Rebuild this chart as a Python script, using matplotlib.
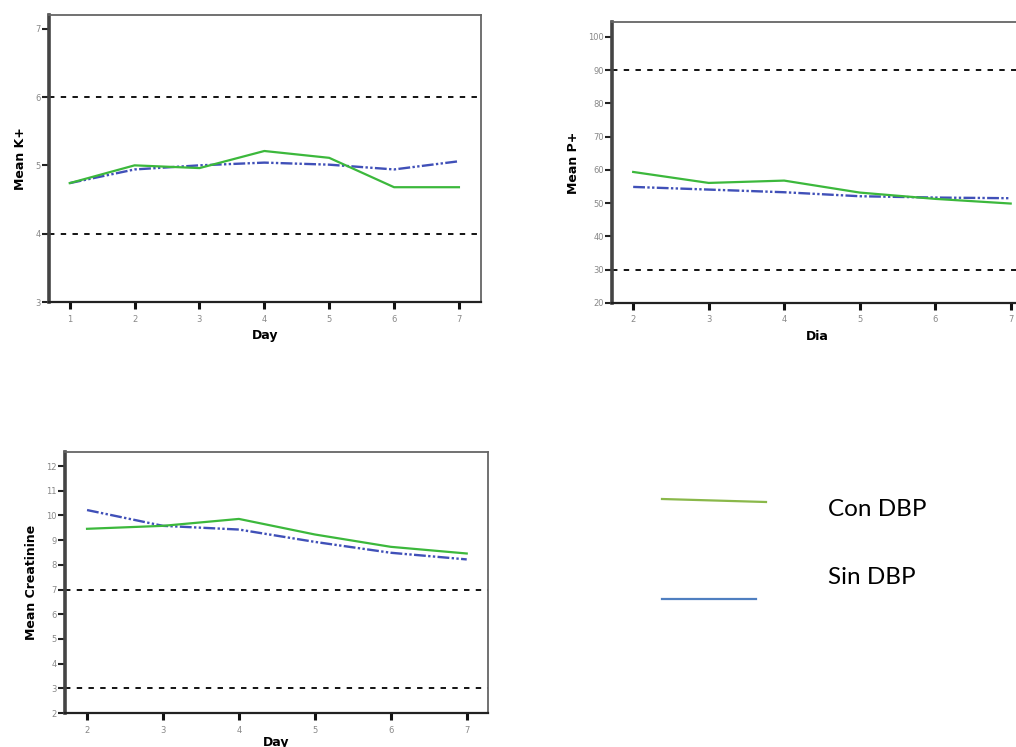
import matplotlib
matplotlib.use("Agg")
import matplotlib.pyplot as plt
from matplotlib.lines import Line2D

# data
days_k = [1, 2, 3, 4, 5, 6, 7]
k_con = [4.74, 5.00, 4.96, 5.21, 5.11, 4.68, 4.68]
k_sin = [4.74, 4.94, 5.00, 5.04, 5.01, 4.94, 5.06]
k_limits = [4, 6]

days_p = [2, 3, 4, 5, 6, 7]
p_con = [59.4, 56.1, 56.8, 53.2, 51.3, 49.9]
p_sin = [54.9, 54.1, 53.3, 52.1, 51.7, 51.5]
p_limits = [30, 90]

days_c = [2, 3, 4, 5, 6, 7]
c_con = [9.46, 9.58, 9.86, 9.23, 8.73, 8.46]
c_sin = [10.22, 9.58, 9.43, 8.93, 8.49, 8.22]
c_limits = [3, 7]

legend_labels = ["Con DBP", "Sin DBP"]

GREEN = "#3cb83c"
BLUE = "#4050b8"
BLUE_LS = (0, (5, 1, 1, 1, 1, 1))

fig = plt.figure(figsize=(10.16, 7.47), dpi=100)


def style_axes(ax, xlabel, ylabel, xticks, yticks, xpad=4):
    ax.set_xticks(xticks)
    ax.set_yticks(yticks)
    ax.tick_params(axis="y", direction="out", length=5, width=1.5, color="#222222",
                   labelsize=6, labelcolor="#888888", pad=1)
    ax.tick_params(axis="x", direction="out", length=5, width=2.2, color="#111111",
                   labelsize=6, labelcolor="#888888", pad=4)
    ax.spines["left"].set_linewidth(2.6)
    ax.spines["left"].set_color("#444444")
    ax.spines["bottom"].set_linewidth(1.6)
    ax.spines["bottom"].set_color("#222222")
    for s in ("top", "right"):
        ax.spines[s].set_linewidth(1.3)
        ax.spines[s].set_color("#666666")
    ax.set_xlabel(xlabel, fontsize=9, fontweight="bold", labelpad=xpad)
    ax.set_ylabel(ylabel, fontsize=9, fontweight="bold", labelpad=6)


def draw(ax, days, con, sin, limits):
    for v in limits:
        ax.axhline(v, color="black", lw=1.3, ls=(0, (3, 3.5)), zorder=1)
    ax.plot(days, sin, color=BLUE, lw=1.7, ls=BLUE_LS, zorder=2)
    ax.plot(days, con, color=GREEN, lw=1.6, zorder=3)


# Mean K+
ax1 = fig.add_axes([0.0482, 0.5957, 0.4252, 0.3842])
draw(ax1, days_k, k_con, k_sin, k_limits)
ax1.set_xlim(0.68, 7.34)
ax1.set_ylim(3, 7.2)
style_axes(ax1, "Day", "Mean K+", days_k, [3, 4, 5, 6, 7])

# Mean P+
ax2 = fig.add_axes([0.6024, 0.5944, 0.405, 0.3762])
draw(ax2, days_p, p_con, p_sin, p_limits)
ax2.set_xlim(1.72, 7.17)
ax2.set_ylim(20, 104.5)
style_axes(ax2, "Dia", "Mean P+", days_p, [20, 30, 40, 50, 60, 70, 80, 90, 100])

# Mean Creatinine
ax3 = fig.add_axes([0.064, 0.0455, 0.4163, 0.3494])
draw(ax3, days_c, c_con, c_sin, c_limits)
ax3.set_xlim(1.71, 7.28)
ax3.set_ylim(2, 12.57)
style_axes(ax3, "Day", "Mean Creatinine", days_c, list(range(2, 13)), xpad=1)

# legend drawn as loose lines and text, like the source
W, H = 1016, 747
fig.add_artist(Line2D([662 / W, 766 / W], [1 - 499 / H, 1 - 502 / H],
                      color="#8ab84a", lw=1.6, transform=fig.transFigure))
fig.add_artist(Line2D([662 / W, 756 / W], [1 - 599 / H, 1 - 599 / H],
                      color="#4f7fc0", lw=1.6, transform=fig.transFigure))
fig.text(828 / W, 1 - 509 / H, legend_labels[0], fontsize=17.5, family="Lato",
         va="center", ha="left")
fig.text(828 / W, 1 - 577 / H, legend_labels[1], fontsize=17.5, family="Lato",
         va="center", ha="left")

fig.savefig("out.png", dpi=100)
